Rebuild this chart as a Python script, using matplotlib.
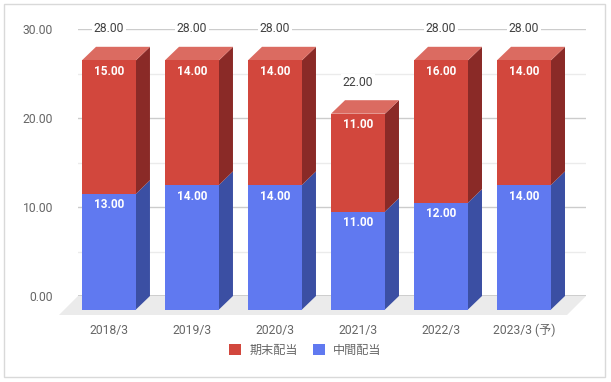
import matplotlib.pyplot as plt
from matplotlib.patches import Polygon, Patch, Rectangle

plt.rcParams['font.family'] = ['Roboto', 'Noto Sans CJK JP', 'DejaVu Sans']

years = ['2018/3', '2019/3', '2020/3', '2021/3', '2022/3', '2023/3 (予)']
interim = [13, 14, 14, 11, 12, 14]   # 中間配当
final = [15, 14, 14, 11, 16, 14]     # 期末配当
totals = [28, 28, 28, 22, 28, 28]

blue = '#6079f0'
blue_side = '#3b4fa3'
red = '#d2473d'
red_side = '#8a2a27'
red_top = '#db6b61'

fig = plt.figure(figsize=(6.11, 3.82), dpi=100)
ax = fig.add_axes([78 / 611, 86 / 382, 508 / 611, 267 / 382])
ax.set_xlim(-0.542, 5.578)
ax.set_ylim(0, 30)

# depth of the fake 3d in data units
dx = 14 / 83
dy = 13.5 / 8.9
w = 0.65

# grid (back plane)
ax.set_yticks([0, 10, 20, 30])
ax.set_yticklabels(['%.2f' % v for v in [0, 10, 20, 30]])
ax.set_yticks([5, 15, 25], minor=True)
ax.grid(axis='y', which='major', color='#cccccc', linewidth=1)
ax.grid(axis='y', which='minor', color='#ebebeb', linewidth=1)
ax.set_axisbelow(True)
for s in ax.spines.values():
    s.set_visible(False)
ax.tick_params(axis='y', which='both', length=0, pad=18, labelsize=8.7, labelcolor='#666666')
ax.axhline(0, color='#333333', linewidth=1, zorder=1)

# floor
x0, x1 = ax.get_xlim()
fx, fy = 19 / 83, 19 / 8.9
floor = Polygon([(x0, 0), (x1, 0), (x1 - fx, -fy), (x0 - fx, -fy)],
                closed=True, facecolor='#ebebeb', edgecolor='none', clip_on=False, zorder=0.5)
ax.add_patch(floor)

xs = list(range(len(years)))
fronts = [x - dx for x in xs]

def side(x, b, h, color):
    pts = [(x - dx + w / 2, b - dy), (x + w / 2, b), (x + w / 2, b + h), (x - dx + w / 2, b + h - dy)]
    ax.add_patch(Polygon(pts, closed=True, facecolor=color, edgecolor='none', clip_on=False, zorder=2))

for i, x in enumerate(xs):
    side(x, 0, interim[i], blue_side)
    side(x, interim[i], final[i], red_side)
    t = interim[i] + final[i]
    top = [(x - dx - w / 2, t - dy), (x - w / 2, t), (x + w / 2, t), (x - dx + w / 2, t - dy)]
    ax.add_patch(Polygon(top, closed=True, facecolor=red_top, edgecolor='none', clip_on=False, zorder=2))

ax.bar(fronts, interim, width=w, bottom=[-dy] * len(xs), color=blue, clip_on=False, zorder=3)
ax.bar(fronts, final, width=w, bottom=[v - dy for v in interim], color=red, clip_on=False, zorder=3)

for i, xf in enumerate(fronts):
    ax.text(xf, interim[i] - dy - 1.25, '%.2f' % interim[i], ha='center', va='center',
            color='white', fontsize=8.5, fontweight='bold', zorder=4)
    ax.text(xf, interim[i] + final[i] - dy - 1.25, '%.2f' % final[i], ha='center', va='center',
            color='white', fontsize=8.5, fontweight='bold', zorder=4)
    ax.text(xf, totals[i] + 2, '%.2f' % totals[i], ha='center', va='center', color='#404040',
            fontsize=8.7, zorder=4, bbox=dict(facecolor='white', edgecolor='none', pad=1.5))

ax.set_xticks(fronts)
ax.set_xticklabels(years)
ax.tick_params(axis='x', length=0, pad=20, labelsize=8.7, labelcolor='#666666')

handles = [Patch(facecolor=red, label='期末配当'), Patch(facecolor=blue, label='中間配当')]
fig.legend(handles=handles, loc='center', bbox_to_anchor=(0.5, 32 / 382), ncol=2, frameon=False,
           fontsize=8.7, handlelength=1.0, handleheight=1.0, handletextpad=0.65, columnspacing=1.3,
           labelcolor='#666666')

fig.patches.append(Rectangle((4 / 611, 5 / 382), 601 / 611, 373 / 382, transform=fig.transFigure,
                             fill=False, edgecolor='#d9d9d9', linewidth=1))

fig.savefig('out.png', dpi=100)
